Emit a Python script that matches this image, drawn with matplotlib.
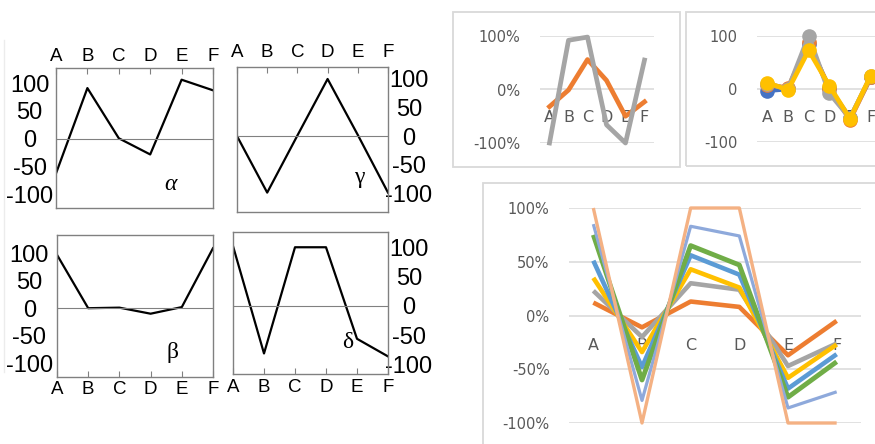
import numpy as np
import matplotlib
matplotlib.use("Agg")
import matplotlib.pyplot as plt
from matplotlib.patches import Rectangle
from matplotlib.lines import Line2D

W, H = 875, 444

cats = ["A", "B", "C", "D", "E", "F"]

# left hand-drawn style panels (scale -100..100)
alpha_vals = [-62, 91, 1, -28, 106, 87]
gamma_vals = [0, -99, 1, 100, 2, -99]
beta_vals = [97, 0, 1, -10, 2, 109]
delta_vals = [102, -81, 100, 100, -56, -86]
left_yticks = [-100, -50, 0, 50, 100]
left_ylabels = ["-100", "-50", "0", "50", "100"]

# top middle excel chart (fractions)
tm_orange = [-0.32, -0.01, 0.56, 0.17, -0.50, -0.23]
tm_grey = [-1.00, 0.92, 0.98, -0.66, -1.00, 0.55]

# top right excel chart with markers
tr_blue = [-3, 0, 85, 2, -55, 22]
tr_orange = [8, 2, 88, 0, -58, 22]
tr_grey = [10, 0, 100, -8, -55, 24]
tr_yellow = [12, -2, 73, 6, -56, 25]

# big excel chart (fractions)
big_orange = [0.12, -0.11, 0.13, 0.08, -0.37, -0.05]
big_grey = [0.23, -0.20, 0.30, 0.24, -0.47, -0.26]
big_yellow = [0.35, -0.34, 0.43, 0.26, -0.58, -0.27]
big_blue = [0.51, -0.48, 0.56, 0.38, -0.68, -0.36]
big_green = [0.75, -0.60, 0.65, 0.47, -0.76, -0.43]
big_lblue = [0.85, -0.79, 0.83, 0.74, -0.86, -0.71]
big_salmon = [1.00, -1.00, 1.00, 1.00, -1.00, -1.00]

fig = plt.figure(figsize=(W / 100, H / 100), dpi=100)
fig.patch.set_facecolor("white")


def box(l, t, r, b):
    return [l / W, 1 - b / H, (r - l) / W, (b - t) / H]


def frame(l, t, r, b):
    fig.add_artist(Rectangle((l / W, 1 - b / H), (r - l) / W, (b - t) / H,
                             transform=fig.transFigure, fill=False,
                             ec="#d9d9d9", lw=1.3))


def left_panel(bx, vals, ylim, top, right, greek, gpos, italic, ypad, xpad):
    ax = fig.add_axes(box(*bx))
    x = np.arange(len(cats))
    ax.plot(x, vals, color="black", lw=1.6)
    ax.axhline(0, color="#808080", lw=0.8)
    ax.set_xlim(0, 5)
    ax.set_ylim(ylim)
    ax.set_xticks(x, cats)
    ax.set_yticks(left_yticks, left_ylabels)
    if top:
        ax.xaxis.tick_top()
    if right:
        ax.yaxis.tick_right()
    ax.tick_params(axis="x", direction="in", length=4, pad=xpad,
                   labelsize=13.5, color="#808080")
    ax.tick_params(axis="y", length=0, pad=ypad, labelsize=17)
    for lbl in ax.get_xticklabels() + ax.get_yticklabels():
        lbl.set_fontfamily("Liberation Sans")
    for lbl in ax.get_yticklabels():
        lbl.set_ha("center")
    for s in ax.spines.values():
        s.set_color("#808080")
        s.set_linewidth(1)
    ax.text(gpos[0], gpos[1], greek, transform=ax.transAxes, ha="center",
            va="center", fontsize=17, family="Liberation Serif",
            style="italic" if italic else "normal")
    return ax


left_panel((56, 68, 213, 208), alpha_vals, (-124, 127), True, False,
           "α", (0.73, 0.17), True, 19, 2.5)
left_panel((237, 67, 388, 212), gamma_vals, (-133, 121), True, True,
           "γ", (0.81, 0.24), False, 15, 4)
left_panel((57, 235, 213, 377), beta_vals, (-125, 133), False, False,
           "β", (0.74, 0.17), False, 20, 3)
left_panel((233, 232, 388, 374), delta_vals, (-116, 126), False, True,
           "δ", (0.74, 0.225), False, 15, 3.5)

fig.add_artist(Line2D([4 / W, 4 / W], [1 - 40 / H, 1 - 372 / H],
                      transform=fig.transFigure, color="#ececec", lw=1))

txt = "#595959"


def excel_axes(bx, yt, ylab, ylim):
    ax = fig.add_axes(box(*bx))
    ax.set_xlim(-0.5, 5.5)
    ax.set_ylim(ylim)
    ax.set_yticks(yt, ylab)
    ax.set_xticks(np.arange(len(cats)), cats)
    ax.yaxis.grid(True, color="#d9d9d9", lw=1.1)
    ax.set_axisbelow(True)
    for s in ax.spines.values():
        s.set_visible(False)
    ax.spines["bottom"].set_position(("data", 0))
    ax.tick_params(axis="y", length=0, pad=14, labelsize=10.5, colors=txt)
    ax.tick_params(axis="x", length=0, pad=15, labelsize=11.5, colors=txt)
    ax.set_facecolor("none")
    return ax


# top middle
frame(453, 12, 680, 167)
ax = excel_axes((540, 36, 654, 143), [-1, 0, 1], ["-100%", "0%", "100%"], (-1, 1))
x = np.arange(len(cats))
ax.plot(x, tm_orange, color="#ED7D31", lw=3.4, solid_joinstyle="round", clip_on=False)
ax.plot(x, tm_grey, color="#A5A5A5", lw=3.4, solid_joinstyle="round", clip_on=False)

# top right
frame(686, 12, 900, 166)
ax = excel_axes((757, 36, 881, 142), [-100, 0, 100], ["-100", "0", "100"], (-100, 100))
for vals, c in [(tr_blue, "#4472C4"), (tr_orange, "#ED7D31"),
                (tr_grey, "#A5A5A5"), (tr_yellow, "#FFC000")]:
    ax.plot(x, vals, color=c, lw=3.4, marker="o", ms=9.5, mec=c,
            solid_joinstyle="round", clip_on=False)

# big chart
frame(483, 183, 900, 460)
ax = excel_axes((569, 208, 861, 423), [-1, -0.5, 0, 0.5, 1],
                ["-100%", "-50%", "0%", "50%", "100%"], (-1, 1))
ax.tick_params(axis="x", pad=16)
series = [(big_orange, "#ED7D31", 3.3), (big_grey, "#A5A5A5", 3.3),
          (big_yellow, "#FFC000", 3.3), (big_blue, "#5B9BD5", 3.3),
          (big_green, "#70AD47", 3.5), (big_lblue, "#8EA9DB", 2.3),
          (big_salmon, "#F4B183", 2.4)]
for vals, c, lw in series:
    ax.plot(x, vals, color=c, lw=lw, solid_joinstyle="round",
            solid_capstyle="butt", clip_on=False)

fig.savefig("out.png", dpi=100, facecolor="white")
